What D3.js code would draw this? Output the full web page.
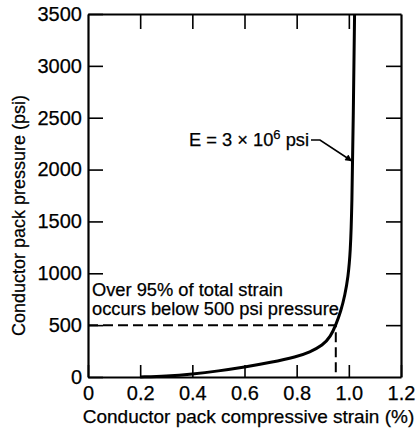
<!DOCTYPE html>
<html>
<head>
<meta charset="utf-8">
<script src="https://cdn.jsdelivr.net/npm/d3@7"></script>
<style>
  body { margin: 0; background: #fff; }
  svg { display: block; font-family: "Liberation Sans", Arial, sans-serif; }
  svg text { stroke: #000; stroke-width: 0.25px; }
</style>
</head>
<body>
<script>
const width = 418;
const height = 435;
const margin = {top: 14, left: 88, bottom: 58, right: 17};

// strain (%) vs pressure (psi)
const strain   = [0.20, 0.30, 0.40, 0.50, 0.60, 0.70, 0.80, 0.85, 0.90, 0.93, 0.95, 0.97, 0.985, 0.997, 1.006, 1.012, 1.017, 1.022];
const pressure = [0,    8,    28,   58,   95,   140,  195,  240,  305,  390,  500,  640,  790,   960,   1200,  1650,  2500,  3500];

const xTicks = [0, 0.2, 0.4, 0.6, 0.8, 1.0, 1.2];
const yTicks = [0, 500, 1000, 1500, 2000, 2500, 3000, 3500];

const markStrain = 0.95;
const markPressure = 500;

const x = d3.scaleLinear()
  .domain([0, 1.2])
  .range([margin.left, width - margin.right]);

const y = d3.scaleLinear()
  .domain([0, 3500])
  .range([height - margin.bottom, margin.top]);

const svg = d3.select('body').append('svg')
  .attr('width', width).attr('height', height);

const fmtX = d => d === 0 ? '0' : d3.format('.1f')(d);

// bottom axis, ticks pointing inward
svg.append('g')
  .attr('transform', `translate(0, ${y(0)})`)
  .call(d3.axisBottom(x).tickValues(xTicks).tickFormat(fmtX)
    .tickSize(-12).tickSizeOuter(0).tickPadding(9))
  .call(g => g.selectAll('text').attr('font-size', 20));

// top axis, no labels
svg.append('g')
  .attr('transform', `translate(0, ${y(3500)})`)
  .call(d3.axisTop(x).tickValues(xTicks.slice(1, -1)).tickFormat('')
    .tickSize(-15).tickSizeOuter(0));

// left axis
svg.append('g')
  .attr('transform', `translate(${x(0)}, 0)`)
  .call(d3.axisLeft(y).tickValues(yTicks).tickFormat(d3.format('d'))
    .tickSize(-15).tickSizeOuter(0).tickPadding(6))
  .call(g => g.selectAll('text').attr('font-size', 20));

// right axis, no labels
svg.append('g')
  .attr('transform', `translate(${x(1.2)}, 0)`)
  .call(d3.axisRight(y).tickValues(yTicks.slice(1, -1)).tickFormat('')
    .tickSize(-15).tickSizeOuter(0));

svg.selectAll('.domain').attr('stroke-width', 2.2);
svg.selectAll('.tick line').attr('stroke-width', 1.6);
svg.selectAll('.tick text').attr('fill', '#000');

// the 500 psi dashed guide
svg.append('path')
  .attr('d', d3.line()([
    [x(0), y(markPressure)],
    [x(markStrain), y(markPressure)],
    [x(markStrain), y(0)]
  ]))
  .attr('fill', 'none')
  .attr('stroke', '#000')
  .attr('stroke-width', 2)
  .attr('stroke-dasharray', '10,5');

// curve
const pts = strain.map((s, i) => [s, pressure[i]]);
svg.append('path')
  .datum(pts)
  .attr('fill', 'none')
  .attr('stroke', '#000')
  .attr('stroke-width', 3)
  .attr('d', d3.line().x(d => x(d[0])).y(d => y(d[1])).curve(d3.curveBasis));

// annotation
const note = svg.append('text')
  .attr('font-size', 18.3)
  .attr('fill', '#000');
note.append('tspan').attr('x', x(0) + 4).attr('y', 296).text('Over 95% of total strain');
note.append('tspan').attr('x', x(0) + 4).attr('y', 315).text('occurs below 500 psi pressure');

// modulus label with leader arrow
const eLabel = svg.append('text')
  .attr('x', 309)
  .attr('y', 146)
  .attr('text-anchor', 'end')
  .attr('font-size', 18.3)
  .attr('fill', '#000');
eLabel.append('tspan').text('E = 3 \u00D7 10');
eLabel.append('tspan').attr('font-size', 13).attr('dy', -7).text('6');
eLabel.append('tspan').attr('dy', 7).text(' psi');

svg.append('defs').append('marker')
  .attr('id', 'arrow')
  .attr('viewBox', '0 0 10 10')
  .attr('refX', 10).attr('refY', 5)
  .attr('markerWidth', 9).attr('markerHeight', 7)
  .attr('markerUnits', 'userSpaceOnUse')
  .attr('orient', 'auto')
  .append('path').attr('d', 'M0,0L10,5L0,10z').attr('fill', '#000');

svg.append('path')
  .attr('d', d3.line()([[311, 140], [320, 140], [x(1.013), y(2080)]]))
  .attr('fill', 'none')
  .attr('stroke', '#000')
  .attr('stroke-width', 1.6)
  .attr('marker-end', 'url(#arrow)');

// axis titles
svg.append('text')
  .attr('x', (x(0) + x(1.2)) / 2 + 4)
  .attr('y', 423)
  .attr('text-anchor', 'middle')
  .attr('font-size', 19)
  .attr('fill', '#000')
  .text('Conductor pack compressive strain (%)');

svg.append('text')
  .attr('transform', `translate(25, ${(y(0) + y(3500)) / 2 + 20}) rotate(-90)`)
  .attr('text-anchor', 'middle')
  .attr('font-size', 18)
  .attr('fill', '#000')
  .text('Conductor pack pressure (psi)');
</script>
</body>
</html>
